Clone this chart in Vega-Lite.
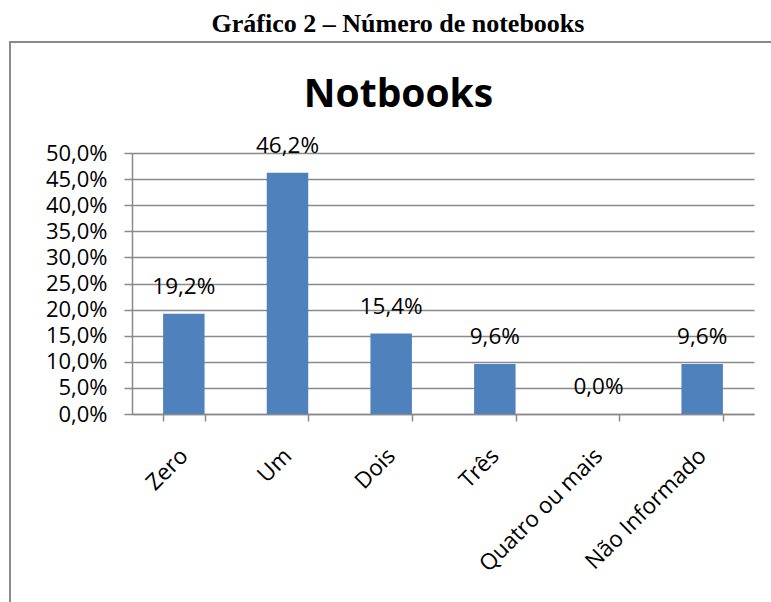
{
  "$schema": "https://vega.github.io/schema/vega-lite/v6.json",
  "autosize": "none",
  "padding": {"left": 10, "top": 42, "right": 0, "bottom": 0},
  "width": 790,
  "height": 590,
  "background": "white",
  "config": {
    "locale": {"number": {"decimal": ",", "thousands": ".", "grouping": [3], "currency": ["R$", ""]}},
    "view": {"stroke": "#8a8a8a", "strokeWidth": 2},
    "font": "Open Sans"
  },
  "title": {
    "text": "Gráfico 2 – Número de notebooks",
    "font": "Liberation Serif",
    "fontSize": 26,
    "fontWeight": "bold",
    "color": "black",
    "anchor": "middle",
    "frame": "group",
    "dx": -7,
    "baseline": "alphabetic",
    "offset": -16
  },
  "data": {
    "values": [
      {"categoria": "Zero", "valor": 0.192},
      {"categoria": "Um", "valor": 0.462},
      {"categoria": "Dois", "valor": 0.154},
      {"categoria": "Três", "valor": 0.096},
      {"categoria": "Quatro ou mais", "valor": 0.0},
      {"categoria": "Não Informado", "valor": 0.096}
    ]
  },
  "encoding": {
    "x": {
      "field": "categoria",
      "type": "nominal",
      "sort": null,
      "scale": {"range": [122, 744], "paddingInner": 0.6, "paddingOuter": 0.3},
      "axis": {
        "orient": "bottom",
        "offset": -218,
        "title": "Notbooks",
        "titleFont": "Open Sans",
        "titleFontSize": 39,
        "titleFontWeight": "bold",
        "titleColor": "black",
        "titleX": 388,
        "titleY": -308,
        "titleAlign": "center",
        "titleBaseline": "alphabetic",
        "titleAnchor": null,
        "domainColor": "#8a8a8a",
        "domainWidth": 1.5,
        "tickColor": "#8a8a8a",
        "tickWidth": 1.5,
        "tickSize": 7,
        "tickBand": "extent",
        "labelAngle": -45,
        "labelAlign": "right",
        "labelBaseline": "middle",
        "labelPadding": 31,
        "labelDx": 7,
        "labelFont": "Open Sans",
        "labelFontSize": 22.5,
        "labelColor": "black",
        "grid": false
      }
    },
    "y": {
      "field": "valor",
      "type": "quantitative",
      "scale": {"domain": [0, 0.5], "range": [372, 111], "nice": false, "zero": true},
      "axis": {
        "orient": "left",
        "offset": -122,
        "title": null,
        "format": ".1%",
        "values": [0, 0.05, 0.1, 0.15, 0.2, 0.25, 0.3, 0.35, 0.4, 0.45, 0.5],
        "domainColor": "#8a8a8a",
        "domainWidth": 1.5,
        "tickColor": "#8a8a8a",
        "tickWidth": 1.5,
        "tickSize": 8,
        "grid": true,
        "gridColor": "#8a8a8a",
        "gridWidth": 1.5,
        "labelFont": "Open Sans",
        "labelFontSize": 22,
        "labelColor": "black",
        "labelPadding": 17
      }
    }
  },
  "layer": [
    {"mark": {"type": "bar", "color": "#4F81BD"}},
    {
      "mark": {"type": "text", "baseline": "alphabetic", "dy": -20, "font": "Open Sans", "fontSize": 22.5, "color": "black"},
      "encoding": {"text": {"field": "valor", "type": "quantitative", "format": ".1%"}}
    }
  ]
}
